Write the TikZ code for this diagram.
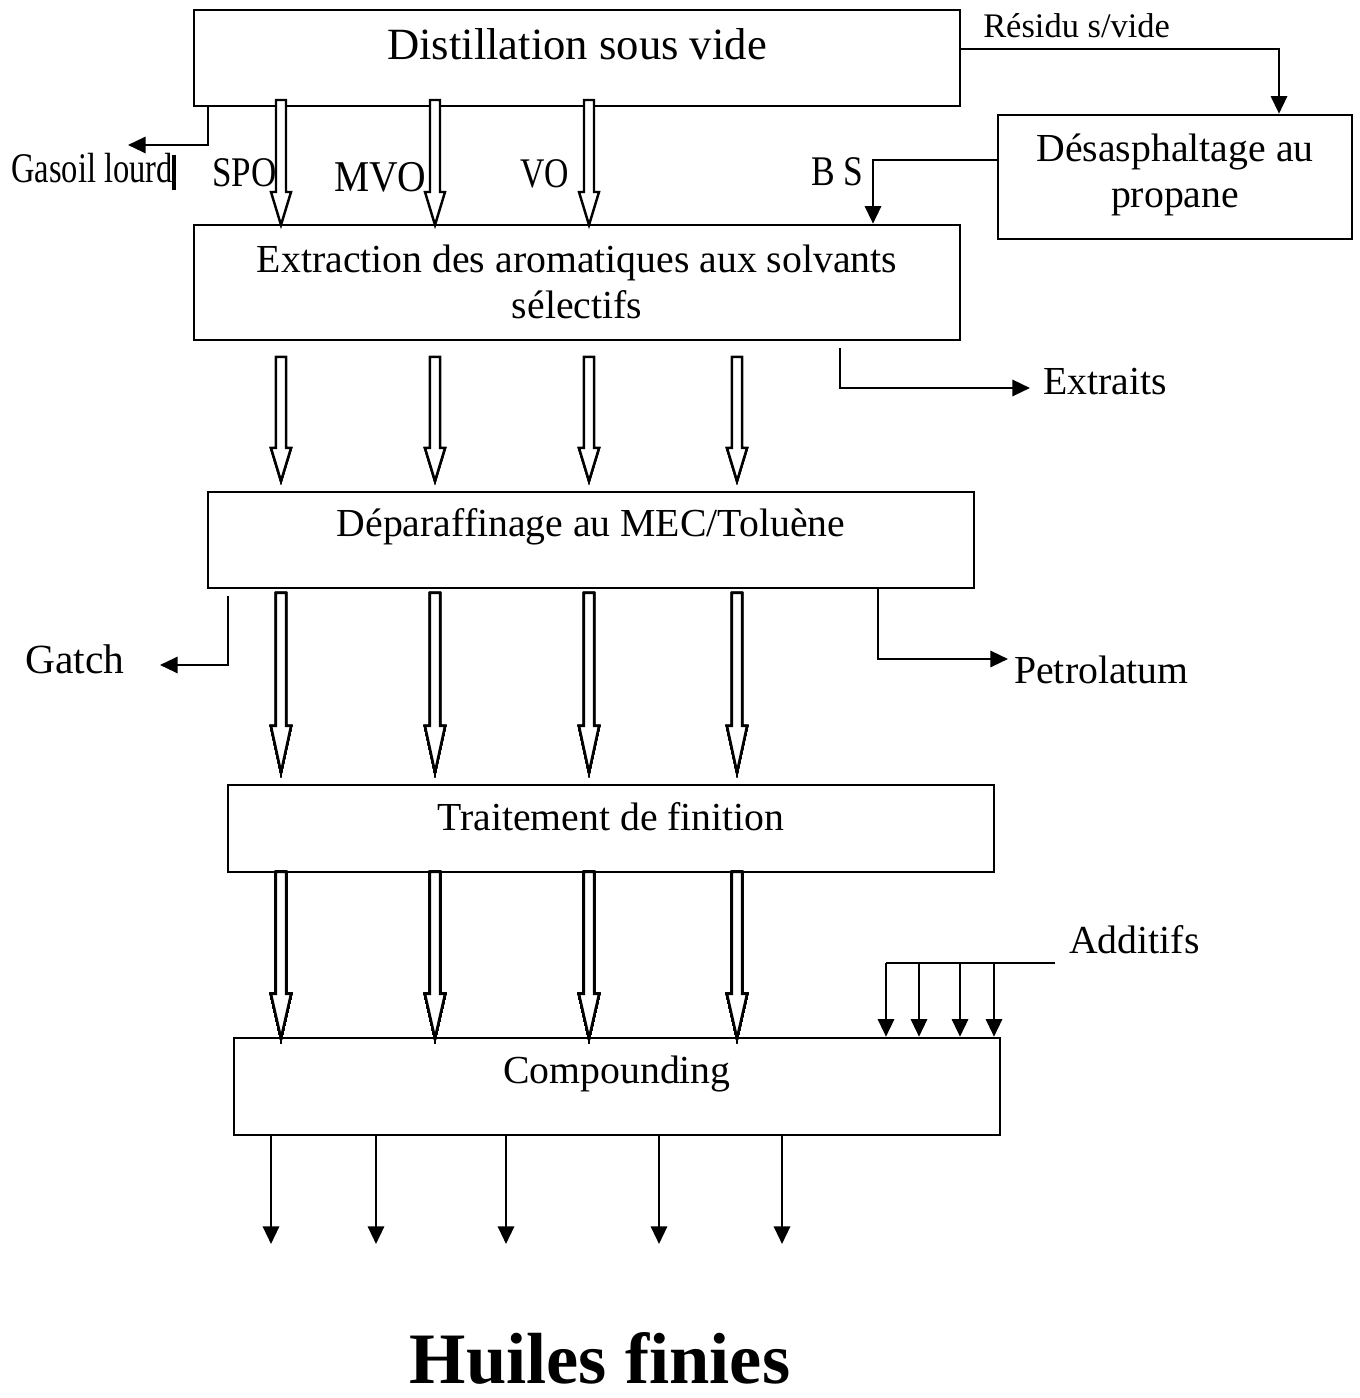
\documentclass[tikz,border=0pt]{standalone}
\usepackage{fontspec,graphicx}
\setmainfont{Liberation Serif}
\usetikzlibrary{arrows.meta}
\newcommand\fsz[2]{\fontsize{#1}{#2}\selectfont}
\newcommand\narrow[2]{\scalebox{#1}[1]{#2}}
% hollow block arrow: x, top, tip, head length
\newcommand\harrow[4]{\draw[fill=white] (#1-5,#2) -- (#1+5,#2) -- (#1+5,#3-#4) -- (#1+10,#3-#4)
  -- (#1,#3) -- (#1-10,#3-#4) -- (#1-5,#3-#4) -- cycle;}
\begin{document}
\begin{tikzpicture}[x=0.01cm,y=-0.01cm,line width=0.7pt,
  box/.style={draw,minimum width=7.66cm,inner sep=0pt},
  txt/.style={font=\fsz{11.3}{13},align=center,inner sep=0pt},
  lab/.style={font=\fsz{12}{14},inner sep=0pt,anchor=base west},
  tip/.style={-{Triangle[length=5pt,width=4.6pt]}}]
\useasboundingbox (0,0) rectangle (1359,1398);
% boxes
\node[box,minimum height=0.96cm] (dist) at (577,58) {};
\node[box,minimum width=3.54cm,minimum height=1.24cm] (desa) at (1175,177) {};
\node[box,minimum height=1.15cm] (extr) at (577,282.5) {};
\node[box,minimum height=0.96cm] (dep) at (591,540) {};
\node[box,minimum height=0.87cm] (trait) at (611,828.5) {};
\node[box,minimum height=0.97cm] (comp) at (617,1086.5) {};
% texts
\node[txt,font=\fsz{12.7}{15},anchor=base] (distT) at (577,60) {Distillation sous vide};
\node[txt] (desaT) at (1175,175) {Désasphaltage au\\propane};
\node[txt] (extrT) at (577,282) {Extraction des aromatiques aux solvants\\sélectifs};
\node[txt,anchor=base] (depT) at (591,537) {Déparaffinage au MEC/Toluène};
\node[txt,anchor=base] (traitT) at (611,830) {Traitement de finition};
\node[txt,anchor=base] (compT) at (617,1083) {Compounding};
\node[txt,font=\fsz{9.8}{12},anchor=base west] (resT) at (982,38) {Résidu s/vide};
\node[txt,anchor=base west] (extT) at (1042,395) {Extraits};
\node[txt,font=\fsz{11.8}{14},anchor=base west] (gatT) at (24,673) {Gatch};
\node[txt,anchor=base west] (petT) at (1013,683) {Petrolatum};
\node[txt,anchor=base west] (addT) at (1068,953) {Additifs};
\node[font=\bfseries\fsz{20.6}{24},inner sep=0pt,anchor=base] (huiT) at (600,1383) {Huiles finies};
\node[lab] (gasT) at (10,183) {\narrow{0.77}{Gasoil lourd}};
\node[lab] (spoT) at (211,187) {\narrow{0.83}{SPO}};
\node[lab,font=\fsz{12.5}{14}] (mvoT) at (333,192) {\narrow{0.9}{MVO}};
\node[lab] (voT) at (519,188) {\narrow{0.8}{VO}};
\node[lab] (bsT) at (810,186) {\narrow{0.84}{B S}};
\draw[line width=0.9pt] (174,155) -- (174,190);
% block arrows
\foreach\x in{281,435,589} \harrow{\x}{100}{225}{33}
\foreach\x in{281,435,589,737} \harrow{\x}{357}{481}{33}
\foreach\x in{281,435,589,737} \harrow{\x}{593}{772}{46}
\foreach\x in{281,435,589,737} \harrow{\x}{872}{1038}{44}
% side streams
\coordinate (gasEnd) at (128,145);
\coordinate (extEnd) at (1030,388);
\coordinate (gatEnd) at (160,665);
\coordinate (petEnd) at (1008,659);
\coordinate (addEnd) at (1055,963);
\draw[tip] (208,0 |- dist.south) |- (gasEnd);
\draw[tip] (dist.east |- 0,49) -| (1279,0 |- desa.north);
\draw[tip] (desa.west |- 0,160) -| (873,0 |- extr.north);
\draw[tip] ([yshift=-0.07cm]840,0 |- extr.south) |- (extEnd);
\draw[tip] ([yshift=-0.07cm]228,0 |- dep.south) |- (gatEnd);
\draw[tip] (878,0 |- dep.south) |- (petEnd);
\draw (addEnd) -- (886,963);
\foreach\x in{886,919,960,994} \draw[tip] (\x,963) -- (\x,0 |- comp.north);
\foreach\x in{271,376,506,659,782}{
  \coordinate (out\x) at (\x,1244);
  \draw[tip] (\x,0 |- comp.south) -- (out\x);}
\end{tikzpicture}
\end{document}
